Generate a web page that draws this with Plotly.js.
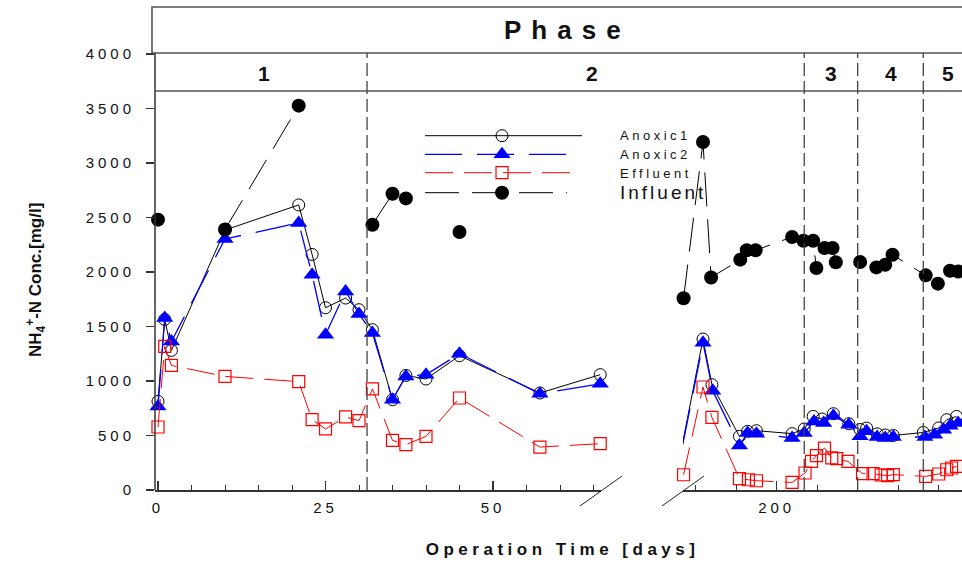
<!DOCTYPE html>
<html><head><meta charset="utf-8">
<script src="https://cdn.plot.ly/plotly-3.0.1.min.js"></script>
<style>
html,body{margin:0;padding:0;background:#fff;}
#chart{width:962px;height:565px;}
g.xtick text, g.x2tick text, g.ytick text{letter-spacing:4px;}
g.annotation[data-index="0"] text{letter-spacing:10px;}
g.annotation[data-index="6"] text{letter-spacing:4.5px;}
g.annotation[data-index="8"] text, g.annotation[data-index="9"] text, g.annotation[data-index="10"] text{letter-spacing:3.5px;}
g.annotation[data-index="11"] text{letter-spacing:3px;}
</style></head><body><div id="chart"></div>
<script>
// ---------- DATA ----------
// Left segment (days 0-66)
const daysL      = [0, 1, 2, 10, 21, 23, 25, 28, 30, 32, 35, 37, 40, 45, 57, 66];
const anoxic1L   = [813, 1565, 1281, 2385, 2615, 2161, 1672, 1761, 1654, 1471, 828, 1051, 1018, 1232, 890, 1058];
const anoxic2L   = [767, 1578, 1363, 2303, 2450, 1975, 1425, 1822, 1615, 1440, 828, 1042, 1058, 1250, 883, 975];
const effluentL  = [578, 1317, 1143, 1042, 994, 645, 560, 670, 636, 927, 455, 416, 492, 844, 394, 425];
const influentDaysL = [0, 5, 10, 21, 27, 32, 35, 37, 41, 45];
const influentL     = [2480, null, 2390, 3526, null, 2434, 2718, 2675, null, 2367];

// Right segment (days ~188-223)
const anoxic1DaysR = [188.4, 190.9, 192.0, 195.4, 196.4, 197.5, 201.9, 203.4, 204.5, 205.6, 207.0, 208.9, 210.3, 211.1, 212.4, 213.4, 214.4, 218.1, 220.0, 221.0, 222.2];
const anoxic1R     = [437, 1385, 966, 492, 538, 544, 517, 560, 675, 651, 700, 608, 555, 568, 515, 505, 500, 528, 569, 645, 675];
const anoxic2DaysR = [188.4, 190.9, 192.1, 195.4, 196.4, 197.5, 201.9, 203.4, 204.6, 205.8, 207.0, 208.9, 210.3, 211.1, 212.4, 213.4, 214.4, 218.3, 219.5, 220.6, 221.4, 222.4];
const anoxic2R     = [417, 1351, 911, 408, 523, 517, 477, 523, 629, 615, 682, 599, 492, 538, 486, 477, 486, 486, 507, 553, 589, 615];
const effluentDaysR = [188.5, 190.9, 192.0, 195.4, 196.5, 197.5, 201.9, 203.5, 204.3, 204.9, 205.9, 206.8, 207.4, 208.8, 210.6, 211.9, 212.9, 213.7, 214.4, 218.4, 220.0, 221.0, 221.6, 222.2];
const effluentR     = [140, 945, 666, 104, 94, 85, 70, 156, 262, 315, 385, 294, 287, 262, 150, 150, 138, 132, 141, 125, 147, 186, 202, 217];
const influentDaysR = [188.5, 190.9, 191.9, 195.5, 196.3, 197.4, 201.9, 203.3, 204.5, 204.9, 205.4, 205.9, 206.9, 207.3, 208.8, 210.3, 211.3, 212.3, 213.4, 214.3, 218.4, 219.2, 219.9, 220.6, 221.4, 222.4];
const influentR     = [1759, 3193, 1950, 2113, 2200, 2200, 2321, 2287, 2287, 2037, null, 2220, 2220, 2090, null, 2092, null, 2042, 2066, 2158, 1969, null, 1893, null, 2011, 2005];

// Phase boundaries (days) and labels
const phaseBoundsL = [31.2];
const phaseBoundsR = [203.4, 210.0, 218.1];
const phaseLabels  = ['1', '2', '3', '4', '5'];
const seriesNames  = ['Anoxic1', 'Anoxic2', 'Effluent', 'Influent'];
const yTicks = [0, 500, 1000, 1500, 2000, 2500, 3000, 3500, 4000];

// ---------- LAYOUT HELPERS ----------
const FONT = 'Liberation Sans, Arial, sans-serif';
const L = 155, R = 962, T = 7, B = 490;
const px2x = p => (p - L) / (R - L);
const py2y = p => (B - p) / (B - T);

const styles = {
  Anoxic1:  {line:{color:'#000', width:1}, marker:{symbol:'circle-open', size:12, color:'#000', line:{width:1, color:'#000'}}},
  Anoxic2:  {line:{color:'#0000ff', width:1.3, dash:'37px,15px'}, marker:{symbol:'triangle-up', size:15, color:'#0000ff'}},
  Effluent: {line:{color:'#ff0000', width:1, dash:'28px,11px'}, marker:{symbol:'square-open', size:12, color:'#ff0000', line:{width:1.2, color:'#ff0000'}}},
  Influent: {line:{color:'#000', width:1, dash:'34px,13px'}, marker:{symbol:'circle', size:14, color:'#000'}}
};

function series(name, x, y, xa) {
  return Object.assign({type:'scatter', mode:'lines+markers', name:name, x:x, y:y,
    xaxis:xa, yaxis:'y', cliponaxis:false, connectgaps:false, showlegend:false, hoverinfo:'skip'}, styles[name]);
}

const traces = [
  series('Anoxic1', daysL, anoxic1L, 'x'),
  series('Anoxic2', daysL, anoxic2L, 'x'),
  series('Effluent', daysL, effluentL, 'x'),
  series('Influent', influentDaysL, influentL, 'x'),
  series('Anoxic1', anoxic1DaysR, anoxic1R, 'x2'),
  series('Anoxic2', anoxic2DaysR, anoxic2R, 'x2'),
  series('Effluent', effluentDaysR, effluentR, 'x2'),
  series('Influent', influentDaysR, influentR, 'x2')
];

// custom legend (pixel-like overlay axes)
const legendRows = [
  {y:135.7, x0:425, x1:582},
  {y:154.3, x0:425, x1:567},
  {y:172.7, x0:425, x1:572},
  {y:192.7, x0:425, x1:567}
];
const legendMarkerX = 502;
seriesNames.forEach((n, i) => {
  const r = legendRows[i];
  const s = styles[n];
  traces.push({type:'scatter', mode:'lines', x:[r.x0, r.x1], y:[r.y, r.y], xaxis:'x3', yaxis:'y3',
    line:s.line, showlegend:false, hoverinfo:'skip'});
  traces.push({type:'scatter', mode:'markers', x:[legendMarkerX], y:[r.y], xaxis:'x3', yaxis:'y3',
    marker:s.marker, showlegend:false, hoverinfo:'skip'});
});

const axisCommon = {
  showline:true, linecolor:'#333', linewidth:1.5, ticks:'inside', ticklen:9, tickwidth:1.2, tickcolor:'#333',
  tick0:0, dtick:25, showgrid:false, zeroline:false, anchor:'y',
  minor:{dtick:5, tick0:0, ticks:'inside', ticklen:5, tickwidth:1, tickcolor:'#333', showgrid:false},
  tickfont:{family:FONT, size:15, color:'#111'}, ticklabelstandoff:3
};

const shapes = [];
// Phase header box
shapes.push({type:'rect', xref:'paper', yref:'paper', x0:px2x(152), x1:px2x(1010), y0:py2y(53), y1:py2y(7),
  line:{color:'#555', width:1.6}});
shapes.push({type:'line', xref:'paper', yref:'paper', x0:0, x1:px2x(1010), y0:py2y(91), y1:py2y(91),
  line:{color:'#555', width:1.6}});
// y-axis line
shapes.push({type:'line', xref:'paper', yref:'paper', x0:0, x1:0, y0:0, y1:py2y(53), line:{color:'#333', width:1.5}});
// phase boundaries
phaseBoundsL.forEach(d => shapes.push({type:'line', xref:'x', yref:'paper', x0:d, x1:d, y0:0, y1:py2y(53),
  line:{color:'#444', width:1.3, dash:'13px,5px'}}));
phaseBoundsR.forEach(d => shapes.push({type:'line', xref:'x2', yref:'paper', x0:d, x1:d, y0:0, y1:py2y(53),
  line:{color:'#444', width:1.3, dash:'13px,5px'}}));
// axis break marks
[[580, 506, 622, 476], [662, 506, 704, 476]].forEach(s => shapes.push({type:'line', xref:'paper', yref:'paper',
  x0:px2x(s[0]), y0:py2y(s[1]), x1:px2x(s[2]), y1:py2y(s[3]), line:{color:'#222', width:1}}));

const annotations = [];
annotations.push({text:'<b>Phase</b>', xref:'paper', yref:'paper', x:px2x(567), y:py2y(30), showarrow:false,
  font:{family:FONT, size:26, color:'#111'}, xanchor:'center', yanchor:'middle'});
const phaseLabelX = [264, 592, 831, 891, 948];
phaseLabels.forEach((t, i) => annotations.push({text:'<b>' + t + '</b>', xref:'paper', yref:'paper',
  x:px2x(phaseLabelX[i]), y:py2y(73), showarrow:false, font:{family:FONT, size:21, color:'#111'},
  xanchor:'center', yanchor:'middle'}));
annotations.push({text:'<b>Operation Time [days]</b>', xref:'paper', yref:'paper', x:px2x(562), y:py2y(549),
  showarrow:false, font:{family:FONT, size:17, color:'#111'}, xanchor:'center', yanchor:'middle'});
annotations.push({text:'<b>NH<sub>4</sub><sup>+</sup>-N Conc.[mg/l]</b>', xref:'paper', yref:'paper',
  x:px2x(35), y:py2y(280), showarrow:false, textangle:-90, font:{family:FONT, size:17, color:'#111'},
  xanchor:'center', yanchor:'middle'});
const legendLabelY = [136, 155, 173, 193];
seriesNames.forEach((n, i) => annotations.push({text:n, xref:'paper', yref:'paper', x:px2x(618),
  y:py2y(legendLabelY[i]), showarrow:false, xanchor:'left', yanchor:'middle', align:'left',
  font:{family:FONT, size:(n === 'Influent' ? 19 : 13), color:'#111'}}));

const layout = {
  width:962, height:565, margin:{l:L, r:0, t:T, b:565 - B, pad:0},
  paper_bgcolor:'#fff', plot_bgcolor:'rgba(0,0,0,0)', showlegend:false,
  xaxis:Object.assign({}, axisCommon, {domain:[0, px2x(601)], range:[-0.45, 66.12]}),
  xaxis2:Object.assign({}, axisCommon, {domain:[px2x(683), 1], range:[188.43, 222.88]}),
  yaxis:{domain:[0, 1], range:[0, 4431], anchor:'x', showline:false, ticks:'outside', ticklen:8, tickwidth:1.2,
    tickcolor:'#333', tickmode:'array', tickvals:yTicks, ticktext:yTicks.map(String), showgrid:false, zeroline:false,
    tickfont:{family:FONT, size:15, color:'#111'}, ticklabelstandoff:8},
  xaxis3:{domain:[0, 1], range:[L, R], visible:false, anchor:'y3', fixedrange:true},
  yaxis3:{domain:[0, 1], range:[B, T], visible:false, anchor:'x3', fixedrange:true},
  shapes:shapes, annotations:annotations
};

Plotly.newPlot('chart', traces, layout, {staticPlot:true, displayModeBar:false});
</script></body></html>
